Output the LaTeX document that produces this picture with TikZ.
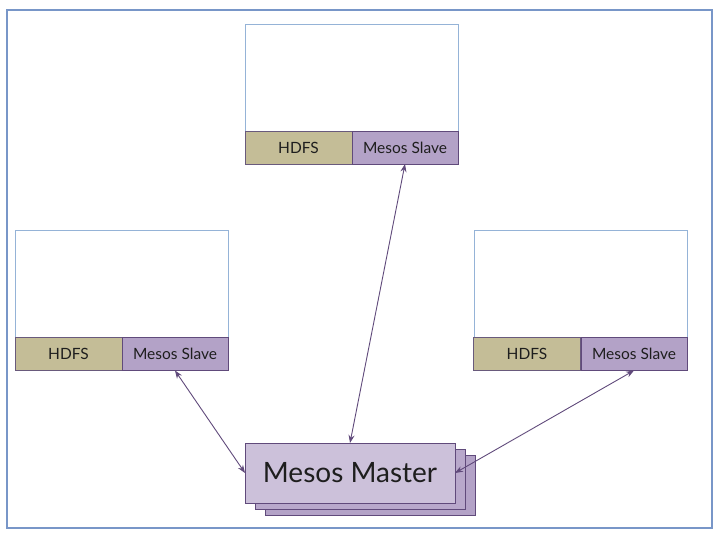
\documentclass[tikz,border=0pt]{standalone}
\usepackage{fontspec}
\setmainfont{Lato}
\usetikzlibrary{arrows.meta}
\definecolor{framecol}{RGB}{120,150,200}
\definecolor{hostcol}{RGB}{149,179,215}
\definecolor{hdfscol}{RGB}{196,189,151}
\definecolor{slavecol}{RGB}{179,162,199}
\definecolor{mastercol}{RGB}{204,193,218}
\definecolor{edgecol}{RGB}{96,74,123}
\definecolor{textcol}{RGB}{30,30,30}
\begin{document}
\begin{tikzpicture}[x=1pt,y=-1pt,
	hostbox/.style={draw=hostcol, fill=white, line width=0.8pt, minimum width=213pt, minimum height=140pt, inner sep=0pt, outer sep=0pt},
	hdfsbar/.style={draw=edgecol!70!gray, fill=hdfscol, line width=0.9pt, minimum width=107pt, minimum height=33pt, inner sep=0pt, outer sep=0pt, text=textcol, font=\fontsize{15.5}{18}\selectfont},
	slavebar/.style={draw=edgecol, fill=slavecol, line width=0.9pt, minimum width=106pt, minimum height=33pt, inner sep=0pt, outer sep=0pt, text=textcol, font=\fontsize{15.5}{18}\selectfont},
	masterbox/.style={draw=edgecol, fill=mastercol, line width=0.9pt, minimum width=210pt, minimum height=60pt, inner sep=0pt, outer sep=0pt},
	link/.style={draw=edgecol, line width=0.9pt, {Stealth[length=8pt,width=6pt]}-{Stealth[length=8pt,width=6pt]}}]
	\useasboundingbox (0,0) rectangle (720,540);
	\draw[framecol, line width=1.5pt] (7,10) rectangle (712,528);
	% top host
	\node[hostbox] (hostT) at (351.5,94) {};
	\node[hdfsbar] (hdfsT) at (298.5,147.5) {HDFS};
	\node[slavebar] (slaveT) at (405,147.5) {Mesos Slave};
	% left host
	\node[hostbox] (hostL) at (121.5,300.5) {};
	\node[hdfsbar] (hdfsL) at (68.5,354) {HDFS};
	\node[slavebar] (slaveL) at (175,354) {Mesos Slave};
	% right host
	\node[hostbox] (hostR) at (581,300.5) {};
	\node[hdfsbar] (hdfsR) at (527,354) {HDFS};
	\node[slavebar] (slaveR) at (634,354) {Mesos Slave};
	% master stack
	\node[masterbox, fill=slavecol] (masterC) at (370,485) {};
	\node[masterbox, fill=slavecol!80!mastercol] (masterB) at (360,479) {};
	\node[masterbox, text=textcol, font=\fontsize{28}{32}\selectfont] (master) at (350,473) {Mesos Master};
	% links
	\draw[link] (slaveT.south) -- (master.north);
	\draw[link] (slaveL.south) -- (master.west);
	\draw[link] (slaveR.south) -- (master.east);
\end{tikzpicture}
\end{document}
